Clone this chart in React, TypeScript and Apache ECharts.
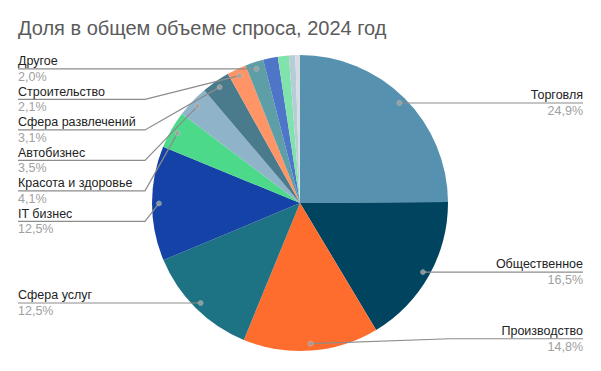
import React, { useEffect, useRef } from 'react';
import * as echarts from 'echarts';

const TITLE = 'Доля в общем объеме спроса, 2024 год';
const categories = [
  'Торговля',
  'Общественное',
  'Производство',
  'Сфера услуг',
  'IT бизнес',
  'Красота и здоровье',
  'Автобизнес',
  'Сфера развлечений',
  'Строительство',
  'Другое',
  'Прочее 1',
  'Прочее 2',
  'Прочее 3',
  'Прочее 4',
];
const shares = [24.9, 16.5, 14.8, 12.5, 12.5, 4.1, 3.5, 3.1, 2.1, 2.0, 1.6, 1.2, 0.7, 0.5];
const labeled = [true, true, true, true, true, true, true, true, true, true, false, false, false, false];
const colors = [
  '#5791b0', '#00445f', '#ff6d2e', '#1d7283', '#1442a6', '#4cd98a', '#8fb3c8',
  '#4a7b8d', '#ff9566', '#5e9ea7', '#4f75c9', '#80e3ab', '#b6cdd8', '#d5dde2',
];

const FONT = '"Liberation Sans", Arial, sans-serif';
const CX = 300;
const CY = 203;
const R = 148;
const DOT_R = 141;
const MAX_LABEL_BOTTOM = 353;

export default function App() {
  const ref = useRef<HTMLDivElement>(null);

  useEffect(() => {
    document.body.style.margin = '0';
    if (!ref.current) return;
    const chart = echarts.init(ref.current, undefined, { renderer: 'svg' });

    const total = shares.reduce((a, b) => a + b, 0);
    const mids: number[] = [];
    let acc = 0;
    shares.forEach((v) => {
      mids.push(acc + v / 2);
      acc += v;
    });

    const fmt = (v: number) => v.toFixed(1).replace('.', ',') + '%';

    const pieData = categories.map((name, i) => ({
      name,
      value: shares[i],
      itemStyle: { color: colors[i] },
    }));

    const labelData = categories.map((name, i) => ({
      name,
      value: shares[i],
      label: { show: labeled[i] },
      labelLine: { show: labeled[i] },
    }));

    const dotData = mids
      .map((m, i) => (labeled[i] ? [DOT_R / R, m] : null))
      .filter((d) => d !== null);

    chart.setOption({
      animation: false,
      title: {
        text: TITLE,
        left: 18,
        top: 18,
        padding: 0,
        textStyle: { fontSize: 20, color: '#5b5b5b', fontWeight: 'normal', fontFamily: FONT },
      },
      polar: { center: [CX, CY], radius: R },
      angleAxis: {
        type: 'value',
        min: 0,
        max: total,
        startAngle: 90,
        clockwise: true,
        show: false,
      },
      radiusAxis: { type: 'value', min: 0, max: 1, show: false },
      series: [
        {
          type: 'pie',
          center: [CX, CY],
          radius: [0, R],
          startAngle: 90,
          clockwise: true,
          silent: true,
          label: { show: false },
          labelLine: { show: false },
          data: pieData,
          z: 1,
        },
        {
          type: 'pie',
          center: [CX, CY],
          radius: [0, DOT_R],
          startAngle: 90,
          clockwise: true,
          silent: true,
          itemStyle: { color: 'rgba(0,0,0,0)' },
          label: {
            position: 'outside',
            alignTo: 'edge',
            edgeDistance: 18,
            fontFamily: FONT,
            formatter: (p: any) => `{n|${p.name}}\n{p|${fmt(p.value)}}`,
            rich: {
              n: { fontSize: 12.5, color: '#222222', lineHeight: 15.5, fontFamily: FONT },
              p: { fontSize: 12.5, color: '#a0a0a0', lineHeight: 15.5, fontFamily: FONT },
            },
          },
          labelLine: {
            length: 0,
            length2: 10,
            lineStyle: { color: '#8c8c8c', width: 1.2 },
          },
          labelLayout: (p: any) => {
            const r = p.labelRect;
            const isLeft = r.x + r.width / 2 < CX;
            let dy = 0;
            if (r.y + r.height > MAX_LABEL_BOTTOM) dy = MAX_LABEL_BOTTOM - (r.y + r.height);
            const y = r.y + r.height / 2 + dy;
            const pts = p.labelLinePoints;
            if (!pts) return { dy };
            const kinkX = isLeft ? CX - R - 7 : CX + R + 2;
            const endX = isLeft ? r.x : r.x + r.width;
            return { dy, labelLinePoints: [pts[0], [kinkX, y], [endX, y]] };
          },
          data: labelData,
          z: 2,
        },
        {
          type: 'scatter',
          coordinateSystem: 'polar',
          symbolSize: 5,
          silent: true,
          itemStyle: { color: '#a3a3a3', borderColor: '#d0d0d0', borderWidth: 0.5 },
          data: dotData,
          z: 3,
        },
      ],
    });

    return () => chart.dispose();
  }, []);

  return <div ref={ref} style={{ width: 601, height: 371 }} />;
}
